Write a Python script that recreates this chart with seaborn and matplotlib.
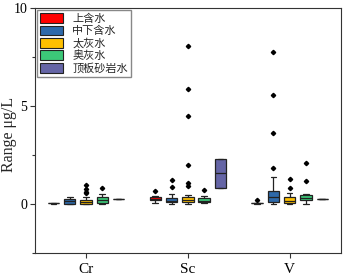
import pandas as pd
import seaborn as sns
import matplotlib.pyplot as plt
from matplotlib.ticker import MultipleLocator

elements = ["Cr", "Sc", "V"]
aquifers = ["上含水", "中下含水", "太灰水", "奥灰水", "顶板砂岩水"]
colors = ["#FF0000", "#2E69AA", "#FFC000", "#3CC878", "#6565A6"]

# samples (µg/L)
cr_shang = [0.02, 0.03, 0.03, 0.04, 0.05]
cr_zhongxia = [0.00, 0.01, 0.02, 0.08, 0.15, 0.20, 0.24, 0.30, 0.37]
cr_taihui = [0.00, 0.00, 0.01, 0.01, 0.02, 0.02, 0.04, 0.06, 0.08, 0.09, 0.10,
             0.12, 0.15, 0.18, 0.20, 0.22, 0.37, 0.55, 0.62, 0.75, 0.97]
cr_aohui = [0.02, 0.03, 0.05, 0.12, 0.20, 0.28, 0.35, 0.51, 0.82]
cr_dingban = [0.26, 0.27, 0.27, 0.28, 0.28]

sc_shang = [0.07, 0.15, 0.22, 0.25, 0.28, 0.31, 0.34, 0.40, 0.65]
sc_zhongxia = [0.02, 0.05, 0.07, 0.09, 0.12, 0.15, 0.18, 0.21, 0.25, 0.29, 0.51, 0.88, 1.22]
sc_taihui = [0.02, 0.04, 0.05, 0.07, 0.08, 0.09, 0.10, 0.12, 0.13, 0.14, 0.15, 0.16,
             0.17, 0.18, 0.20, 0.22, 0.24, 0.26, 0.28, 0.30, 0.32, 0.34, 0.45,
             0.92, 1.05, 1.99, 4.47, 5.85, 8.05]
sc_aohui = [0.03, 0.07, 0.10, 0.14, 0.18, 0.22, 0.29, 0.42, 0.71]
sc_dingban = [0.80, 0.80, 1.57, 2.28, 2.28]

v_shang = [0.02, 0.03, 0.03, 0.04, 0.04, 0.05, 0.05, 0.06, 0.20]
v_zhongxia = [0.02, 0.03, 0.05, 0.06, 0.08, 0.09, 0.12, 0.16, 0.20, 0.25, 0.35,
              0.40, 0.46, 0.52, 0.60, 0.66, 1.39, 1.82, 3.64, 5.56, 7.74]
v_taihui = [0.02, 0.04, 0.06, 0.07, 0.10, 0.14, 0.18, 0.22, 0.28, 0.34, 0.58, 0.83, 1.26]
v_aohui = [0.02, 0.08, 0.15, 0.20, 0.24, 0.28, 0.32, 0.36, 0.40, 0.44, 0.51, 1.16, 2.10]
v_dingban = [0.26, 0.27, 0.27, 0.28, 0.28]

groups = {
    "Cr": [cr_shang, cr_zhongxia, cr_taihui, cr_aohui, cr_dingban],
    "Sc": [sc_shang, sc_zhongxia, sc_taihui, sc_aohui, sc_dingban],
    "V": [v_shang, v_zhongxia, v_taihui, v_aohui, v_dingban],
}

rows = []
for el in elements:
    for aq, vals in zip(aquifers, groups[el]):
        for v in vals:
            rows.append((el, aq, v))
df = pd.DataFrame(rows, columns=["element", "aquifer", "value"])

sns.set_style("ticks")
plt.rcParams["font.family"] = ["Liberation Serif", "Noto Sans CJK SC"]

fig = plt.figure(figsize=(3.44, 2.79), dpi=100)
ax = fig.add_axes([0.102, 0.093, 0.888, 0.878])

sns.boxplot(data=df, x="element", y="value", hue="aquifer", order=elements,
            hue_order=aquifers, palette=colors, saturation=1, width=0.8, gap=0.3,
            linewidth=0.9, linecolor="#222222", fliersize=2.2,
            flierprops=dict(marker="D", markerfacecolor="black", markeredgecolor="black"),
            ax=ax)

ax.set_ylim(-2.5, 10)
ax.set_xlim(-0.5, 2.5)
ax.yaxis.set_major_locator(MultipleLocator(5))
ax.yaxis.set_minor_locator(MultipleLocator(2.5))
ax.tick_params(axis="both", which="major", direction="out", length=3.5, width=0.8, colors="#333333")
ax.tick_params(axis="y", which="minor", direction="out", length=2, width=0.8, colors="#333333")
ax.tick_params(axis="y", labelsize=10, labelcolor="black", pad=2)
ax.tick_params(axis="x", labelsize=11, labelcolor="black", pad=4)
for s in ax.spines.values():
    s.set_visible(True)
    s.set_linewidth(0.8)
    s.set_color("#333333")

ax.set_xlabel("")
ax.set_ylabel("Range μg/L", fontsize=11.5)
ax.yaxis.set_label_coords(-0.058, 0.485)

handles, labels = ax.get_legend_handles_labels()
for h in handles:
    h.set_edgecolor("#222222")
    h.set_linewidth(0.8)
ax.legend(handles, labels, loc="upper left", fontsize=8, frameon=True, fancybox=False,
          edgecolor="#888888", framealpha=1, borderaxespad=0.15, borderpad=0.3,
          handlelength=2.1, handleheight=1.0, labelspacing=0.15, handletextpad=0.8)

plt.savefig("out.png", dpi=100)
